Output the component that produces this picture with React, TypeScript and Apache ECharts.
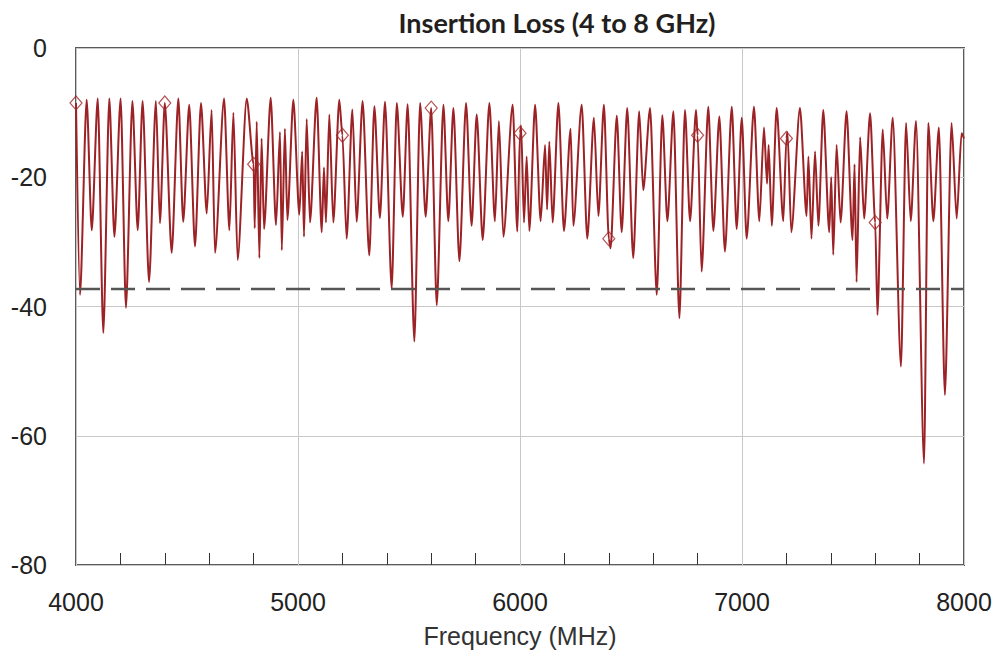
import React, { useEffect, useRef } from "react";
import * as echarts from "echarts";

// Curve (frequency in MHz, insertion loss in dB)
const freqMHz = [
  4000, 4018, 4048, 4071, 4098, 4123, 4150, 4173, 4201, 4225, 4254, 4278, 4300, 4329, 4360, 4378,
  4400, 4431, 4461, 4483, 4510, 4536, 4563, 4589, 4611, 4626, 4667, 4691, 4709, 4728, 4769,
  4800, 4805, 4814, 4826, 4836, 4847, 4877, 4901, 4919, 4927, 4941, 4952, 4979, 5006, 5019, 5027,
  5039, 5054, 5084, 5107, 5117, 5126, 5141, 5159, 5186, 5200, 5219, 5245, 5264, 5291, 5321, 5344,
  5369, 5392, 5422, 5445, 5472, 5494, 5524, 5550, 5575, 5600, 5625, 5655, 5677, 5700, 5727, 5757,
  5782, 5805, 5832, 5862, 5887, 5905, 5925, 5967, 5988, 6000, 6005, 6018, 6030, 6042, 6068, 6093,
  6113, 6122, 6132, 6147, 6173, 6198, 6228, 6240, 6278, 6303, 6333, 6353, 6378, 6400, 6408, 6436,
  6458, 6483, 6510, 6537, 6555, 6586, 6616, 6641, 6664, 6691, 6718, 6743, 6766, 6793, 6800, 6818,
  6848, 6871, 6898, 6923, 6954, 6976, 6999, 7021, 7054, 7078, 7099, 7113, 7120, 7134, 7156, 7186,
  7200, 7205, 7222, 7261, 7291, 7299, 7313, 7329, 7344, 7366, 7393, 7402, 7411, 7426, 7444, 7471,
  7498, 7507, 7516, 7532, 7550, 7577, 7600, 7610, 7634, 7654, 7679, 7716, 7739, 7760, 7784, 7820,
  7839, 7862, 7887, 7914, 7944, 7967, 7989, 8000,
];
const lossDb = [
  -8.5, -38.2, -8.0, -28.2, -7.8, -44.1, -7.8, -29.2, -7.8, -40.2, -8.2, -28.2, -8.2, -36.2, -8.2, -27.1,
  -8.5, -31.7, -7.8, -26.9, -8.8, -30.7, -8.5, -25.6, -9.6, -31.7, -7.8, -28.2, -10.0, -32.8, -7.8,
  -18.0, -27.9, -11.4, -32.5, -14.0, -28.0, -7.7, -27.4, -13.0, -31.3, -12.5, -26.6, -8.0, -25.8, -16.0, -29.2,
  -11.0, -27.0, -7.7, -28.5, -18.5, -27.0, -10.3, -27.0, -8.0, -13.5, -29.5, -9.5, -26.9, -8.2, -32.1, -9.0,
  -26.3, -8.3, -37.2, -8.5, -26.1, -8.7, -45.4, -8.5, -26.1, -9.3, -39.8, -8.8, -26.8, -9.3, -33.0, -8.5,
  -27.5, -10.3, -29.7, -8.5, -26.8, -11.3, -29.2, -8.8, -28.4, -13.2, -12.0, -27.0, -16.8, -28.3, -8.8, -26.8,
  -15.0, -25.0, -14.5, -27.0, -8.5, -28.3, -12.5, -27.5, -8.8, -29.5, -10.8, -26.0, -8.8, -29.5, -31.0, -10.5,
  -28.5, -9.3, -32.5, -9.8, -22.0, -9.3, -38.2, -10.4, -26.8, -9.8, -41.8, -9.6, -26.8, -9.6, -13.5, -34.6,
  -9.1, -28.3, -10.6, -31.5, -9.1, -28.0, -10.8, -29.5, -9.1, -26.8, -12.3, -21.0, -15.0, -27.5, -9.3, -26.8,
  -14.0, -13.0, -28.5, -9.3, -26.0, -16.8, -29.5, -16.0, -27.5, -9.6, -28.5, -20.0, -32.0, -15.0, -27.0, -9.8,
  -29.7, -18.0, -36.2, -13.8, -26.4, -10.1, -27.0, -41.3, -12.6, -26.4, -10.8, -49.3, -11.6, -26.8, -11.3, -64.3,
  -11.6, -26.8, -12.3, -53.7, -11.6, -26.4, -13.2, -14.0,
];

// Diamond markers (every 400 MHz)
const markerFreqMHz = [4000, 4400, 4800, 5200, 5600, 6000, 6400, 6800, 7200, 7600];
const markerLossDb = [-8.5, -8.5, -18.0, -13.5, -9.3, -13.2, -29.5, -13.5, -14.0, -27.0];

// Dashed reference level
const thresholdDb = -37.3;

// Axis ticks
const xTicks = [4000, 5000, 6000, 7000, 8000];
const xMinorTicks = [
  4200, 4400, 4600, 4800, 5200, 5400, 5600, 5800,
  6200, 6400, 6600, 6800, 7200, 7400, 7600, 7800,
];
const yTicks = [-80, -60, -40, -20, 0];

const TITLE = "Insertion Loss (4 to 8 GHz)";
const X_NAME = "Frequency (MHz)";

export default function App() {
  const ref = useRef<HTMLDivElement>(null);

  useEffect(() => {
    if (!ref.current) return;
    const chart = echarts.init(ref.current, undefined, { renderer: "svg" });

    const curve = freqMHz.map((f, i) => [f, lossDb[i]]);
    const markers = markerFreqMHz.map((f, i) => [f, markerLossDb[i]]);
    const level = [
      [xTicks[0], thresholdDb],
      [xTicks[xTicks.length - 1], thresholdDb],
    ];

    const axisFont = "'Liberation Sans', Arial, sans-serif";

    chart.setOption({
      animation: false,
      backgroundColor: "#ffffff",
      graphic: [
        {
          type: "text",
          x: 557,
          y: 22,
          style: {
            text: TITLE,
            fill: "#231f20",
            font: "bold 27px Lato, 'Open Sans', sans-serif",
            align: "center",
            verticalAlign: "middle",
          },
        },
      ],
      grid: {
        left: 76,
        right: 33,
        top: 48,
        bottom: 91,
        show: true,
        borderColor: "#5a5a5a",
        borderWidth: 2,
        backgroundColor: "transparent",
      },
      xAxis: [
        {
          type: "value",
          min: xTicks[0],
          max: xTicks[xTicks.length - 1],
          interval: xTicks[1] - xTicks[0],
          name: X_NAME,
          nameLocation: "middle",
          nameGap: 58,
          nameTextStyle: { fontFamily: axisFont, fontSize: 25, color: "#333" },
          axisLine: { show: false, onZero: false },
          axisTick: { show: false },
          axisLabel: {
            fontFamily: axisFont,
            fontSize: 25,
            color: "#222",
            margin: 24,
            formatter: (v: number) => String(v),
          },
          splitLine: { show: true, lineStyle: { color: "#c8c8c8", width: 1 } },
        },
        {
          type: "value",
          position: "bottom",
          min: xTicks[0],
          max: xTicks[xTicks.length - 1],
          axisLine: { show: false, onZero: false },
          axisTick: {
            show: true,
            inside: true,
            length: 12,
            customValues: xMinorTicks,
            lineStyle: { color: "#333", width: 1 },
          },
          axisLabel: { show: false },
          splitLine: { show: false },
        },
      ],
      yAxis: {
        type: "value",
        min: yTicks[0],
        max: yTicks[yTicks.length - 1],
        interval: yTicks[1] - yTicks[0],
        axisLine: { show: false },
        axisTick: { show: false },
        axisLabel: {
          fontFamily: axisFont,
          fontSize: 25,
          color: "#222",
          margin: 29,
        },
        splitLine: { show: true, lineStyle: { color: "#c8c8c8", width: 1 } },
      },
      series: [
        {
          type: "line",
          data: curve,
          showSymbol: false,
          symbol: "none",
          smooth: 0.25,
          smoothMonotone: "x",
          lineStyle: { color: "#9c2226", width: 2 },
          z: 2,
        },
        {
          type: "line",
          data: level,
          showSymbol: false,
          symbol: "none",
          lineStyle: { color: "#555", width: 2.5, type: [24, 11] },
          z: 3,
        },
        {
          type: "scatter",
          data: markers,
          symbol: "diamond",
          symbolSize: [12, 14],
          itemStyle: { color: "rgba(255,255,255,0)", borderColor: "#a0282a", borderWidth: 1.2 },
          z: 4,
        },
      ],
    });

    return () => chart.dispose();
  }, []);

  return (
    <div
      ref={ref}
      style={{ position: "fixed", left: 0, top: 0, width: 997, height: 656 }}
    />
  );
}
